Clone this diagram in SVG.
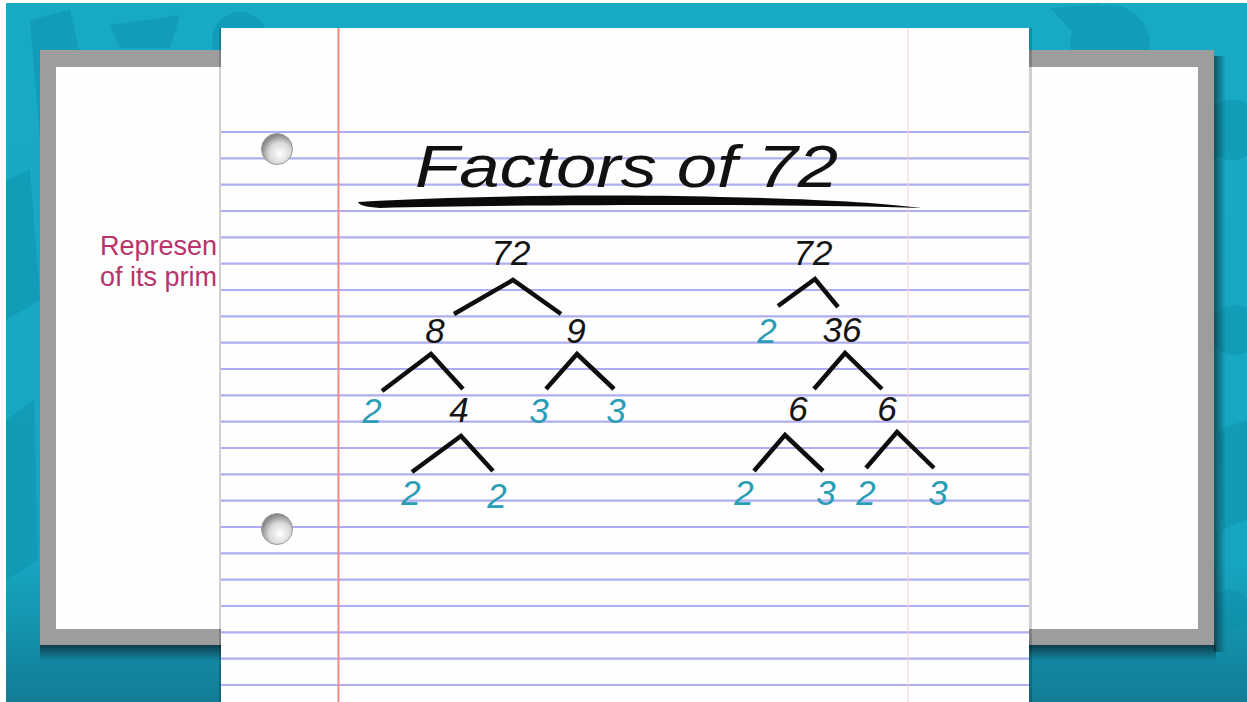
<svg xmlns="http://www.w3.org/2000/svg" width="1247" height="702" viewBox="0 0 1247 702">
<style>
.num{font-family:"Liberation Sans",Arial,sans-serif;font-style:italic;font-size:35px;text-anchor:middle}
.k{fill:#141414}
.p{fill:#2a9db6}
.rule{stroke:#adadf0;stroke-width:2.2}
.edge{stroke:#0d0d0d;stroke-width:4.5;fill:none;stroke-linecap:butt;stroke-linejoin:miter}
.pink{font-family:"Liberation Sans",Arial,sans-serif;font-size:27px;fill:#b7336a}
</style>
<defs>
<linearGradient id="bg" x1="0" y1="0" x2="0" y2="1">
<stop offset="0" stop-color="#17aac7"/>
<stop offset="0.8" stop-color="#17a6c2"/>
<stop offset="1" stop-color="#127c95"/>
</linearGradient>
<linearGradient id="shB" x1="0" y1="0" x2="0" y2="1">
<stop offset="0" stop-color="#0a2f38" stop-opacity="0.85"/>
<stop offset="1" stop-color="#0a2f38" stop-opacity="0"/>
</linearGradient>
<linearGradient id="shR" x1="0" y1="0" x2="1" y2="0">
<stop offset="0" stop-color="#0a2f38" stop-opacity="0.7"/>
<stop offset="1" stop-color="#0a2f38" stop-opacity="0"/>
</linearGradient>
<radialGradient id="hole" cx="0.6" cy="0.65" r="0.6">
<stop offset="0" stop-color="#ffffff"/>
<stop offset="0.6" stop-color="#d8d8d8"/>
<stop offset="1" stop-color="#8a8a8a"/>
</radialGradient>
</defs>
<rect x="0" y="0" width="1247" height="702" fill="#ffffff"/>
<rect x="6" y="3" width="1241" height="699" fill="url(#bg)"/>
<g fill="#0b8ea9" opacity="0.45">
<polygon points="30,20 70,10 95,120 40,140"/>
<polygon points="110,25 180,15 170,48 120,48"/>
<circle cx="240" cy="40" r="28"/>
<polygon points="6,180 30,170 40,300 6,320"/>
<polygon points="6,420 34,400 38,560 6,580"/>
<circle cx="1110" cy="45" r="40"/>
<polygon points="1050,8 1100,4 1080,40"/>
<circle cx="1232" cy="130" r="30"/>
<circle cx="1235" cy="330" r="25"/>
<polygon points="1218,430 1247,420 1247,520 1222,530"/>
<circle cx="1230" cy="610" r="20"/>
</g>
<rect x="40" y="645" width="1176" height="16" fill="url(#shB)"/>
<rect x="1214" y="56" width="12" height="596" fill="url(#shR)"/>
<rect x="40" y="50" width="1174" height="595" fill="#9d9d9d"/>
<rect x="56" y="67" width="1142" height="562" fill="#fefefe"/>
<text class="pink" x="100" y="255">Represen</text>
<text class="pink" x="100" y="286">of its prim</text>
<rect x="219" y="28" width="813" height="674" fill="#000000" opacity="0.18"/>
<rect x="221" y="28" width="808" height="674" fill="#fefefe"/>
<g id="rules">
<line class="rule" x1="221" y1="132" x2="1029" y2="132"/>
<line class="rule" x1="221" y1="158.3" x2="1029" y2="158.3"/>
<line class="rule" x1="221" y1="184.7" x2="1029" y2="184.7"/>
<line class="rule" x1="221" y1="211" x2="1029" y2="211"/>
<line class="rule" x1="221" y1="237.3" x2="1029" y2="237.3"/>
<line class="rule" x1="221" y1="263.7" x2="1029" y2="263.7"/>
<line class="rule" x1="221" y1="290" x2="1029" y2="290"/>
<line class="rule" x1="221" y1="316.3" x2="1029" y2="316.3"/>
<line class="rule" x1="221" y1="342.7" x2="1029" y2="342.7"/>
<line class="rule" x1="221" y1="369" x2="1029" y2="369"/>
<line class="rule" x1="221" y1="395.3" x2="1029" y2="395.3"/>
<line class="rule" x1="221" y1="421.7" x2="1029" y2="421.7"/>
<line class="rule" x1="221" y1="448" x2="1029" y2="448"/>
<line class="rule" x1="221" y1="474.3" x2="1029" y2="474.3"/>
<line class="rule" x1="221" y1="500.7" x2="1029" y2="500.7"/>
<line class="rule" x1="221" y1="527" x2="1029" y2="527"/>
<line class="rule" x1="221" y1="553.3" x2="1029" y2="553.3"/>
<line class="rule" x1="221" y1="579.7" x2="1029" y2="579.7"/>
<line class="rule" x1="221" y1="606" x2="1029" y2="606"/>
<line class="rule" x1="221" y1="632.3" x2="1029" y2="632.3"/>
<line class="rule" x1="221" y1="658.7" x2="1029" y2="658.7"/>
<line class="rule" x1="221" y1="685" x2="1029" y2="685"/>
</g>
<line x1="338.5" y1="28" x2="338.5" y2="702" stroke="#f28a8a" stroke-width="2"/>
<line x1="908" y1="28" x2="908" y2="702" stroke="#f7d6d6" stroke-width="1.2"/>
<circle cx="277" cy="149" r="15.5" fill="url(#hole)" stroke="#9a9a9a" stroke-width="1"/>
<circle cx="277" cy="529" r="15.5" fill="url(#hole)" stroke="#9a9a9a" stroke-width="1"/>
<g id="title">
<text x="415" y="187" font-family="Liberation Sans,Arial,sans-serif" font-style="italic" font-size="60" fill="#111111" textLength="423" lengthAdjust="spacingAndGlyphs">Factors of 72</text>
<path d="M358,202 C450,196 600,194 720,197 C820,199 880,203 922,208 C860,206 780,205 700,205 C560,205 450,206 380,208 C365,207 359,205 358,202 Z" fill="#0a0a0a"/>
</g>
<g id="connectors">
<polyline class="edge" points="454,314 513,280 561,314"/>
<polyline class="edge" points="382,391 431,354 463,389"/>
<polyline class="edge" points="546,389 577,354 614,389"/>
<polyline class="edge" points="412,472 461,436 493,471"/>
<polyline class="edge" points="778,306 815,279 838,307"/>
<polyline class="edge" points="814,389 845,353 882,389"/>
<polyline class="edge" points="754,471 785,435 823,471"/>
<polyline class="edge" points="866,468 897,432 934,468"/>
</g>
<g id="L72"><text class="num k" x="511" y="265">72</text></g>
<g id="L8"><text class="num k" x="435" y="343">8</text></g>
<g id="L9"><text class="num k" x="576" y="343">9</text></g>
<g id="L2a"><text class="num p" x="372" y="423">2</text></g>
<g id="L4"><text class="num k" x="459" y="422">4</text></g>
<g id="L3a"><text class="num p" x="539" y="423">3</text></g>
<g id="L3b"><text class="num p" x="616" y="423">3</text></g>
<g id="L2b"><text class="num p" x="411" y="505">2</text></g>
<g id="L2c"><text class="num p" x="497" y="508">2</text></g>
<g id="R72"><text class="num k" x="813" y="265">72</text></g>
<g id="R2"><text class="num p" x="767" y="343">2</text></g>
<g id="R36"><text class="num k" x="842" y="342">36</text></g>
<g id="R6a"><text class="num k" x="798" y="421">6</text></g>
<g id="R6b"><text class="num k" x="887" y="421">6</text></g>
<g id="R2a"><text class="num p" x="744" y="505">2</text></g>
<g id="R3a"><text class="num p" x="826" y="505">3</text></g>
<g id="R2b"><text class="num p" x="866" y="505">2</text></g>
<g id="R3b"><text class="num p" x="938" y="505">3</text></g>
</svg>
